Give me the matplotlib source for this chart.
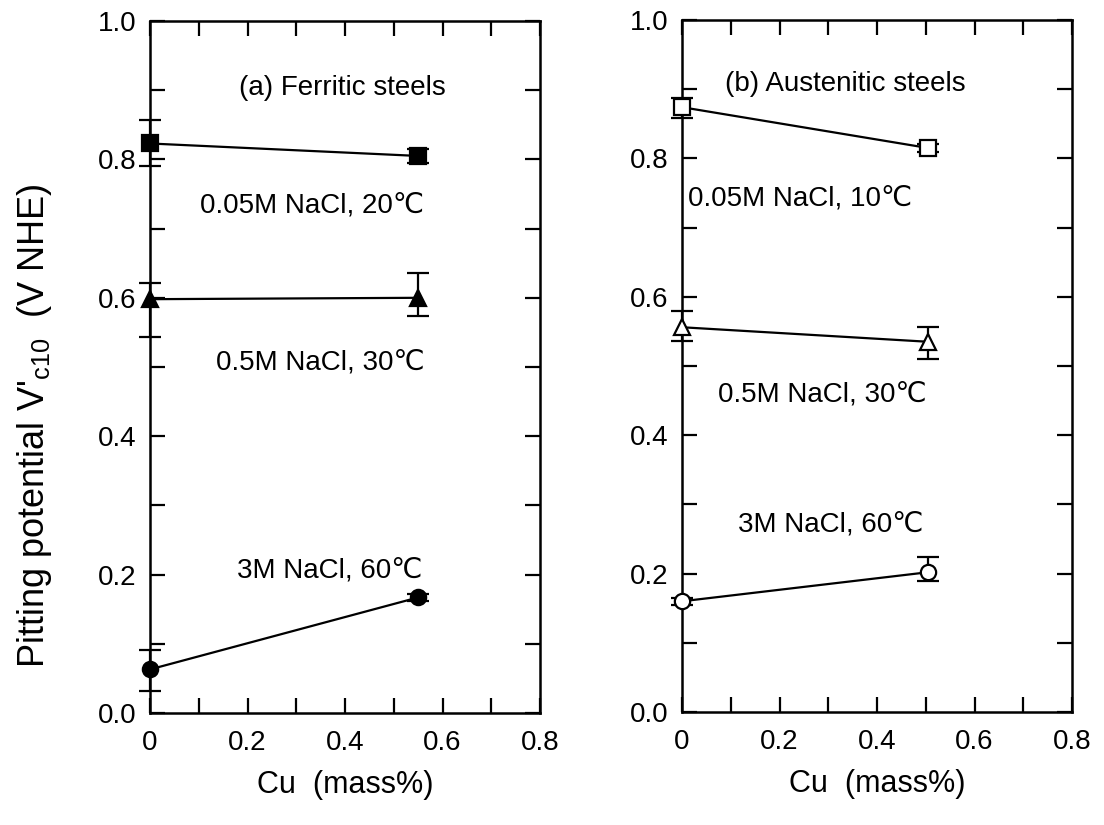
import matplotlib
matplotlib.use("Agg")
import matplotlib.pyplot as plt
from matplotlib.ticker import MultipleLocator, FuncFormatter

plt.rcParams['font.family'] = ['Liberation Sans', 'DejaVu Sans']

# Cu content (mass%)
cu_a = [0.0, 0.55]
cu_b = [0.0, 0.505]

# (a) ferritic steels
fe_005 = [0.823, 0.805]
fe_005_lo = [0.033, 0.01]
fe_005_hi = [0.034, 0.01]
fe_05 = [0.598, 0.600]
fe_05_lo = [0.055, 0.026]
fe_05_hi = [0.024, 0.036]
fe_3 = [0.063, 0.167]
fe_3_lo = [0.031, 0.005]
fe_3_hi = [0.028, 0.005]

# (b) austenitic steels
au_005 = [0.874, 0.815]
au_005_lo = [0.015, 0.006]
au_005_hi = [0.013, 0.006]
au_05 = [0.556, 0.535]
au_05_lo = [0.02, 0.025]
au_05_hi = [0.024, 0.022]
au_3 = [0.16, 0.202]
au_3_lo = [0.005, 0.012]
au_3_hi = [0.005, 0.022]

DEG = "\u2103"

fig = plt.figure(figsize=(11.04, 8.25), dpi=100)
ax1 = fig.add_axes([150/1104, 112/825, 390/1104, 692/825])
ax2 = fig.add_axes([682/1104, 113/825, 390/1104, 692/825])


def series(ax, x, y, lo, hi, marker, filled, ms):
    ax.errorbar(x, y, yerr=[lo, hi], color='black', lw=1.6, marker=marker,
                ms=ms, mfc='black' if filled else 'white', mec='black', mew=1.6,
                capsize=8, capthick=1.6, elinewidth=1.6, clip_on=False, zorder=3)


def style(ax):
    ax.set_xlim(0, 0.8)
    ax.set_ylim(0, 1.0)
    ax.xaxis.set_major_locator(MultipleLocator(0.2))
    ax.xaxis.set_minor_locator(MultipleLocator(0.1))
    ax.yaxis.set_major_locator(MultipleLocator(0.2))
    ax.yaxis.set_minor_locator(MultipleLocator(0.1))
    ax.xaxis.set_major_formatter(FuncFormatter(lambda v, p: "0" if abs(v) < 1e-9 else "%.1f" % v))
    ax.yaxis.set_major_formatter(FuncFormatter(lambda v, p: "%.1f" % v))
    ax.tick_params(which='both', direction='in', top=True, right=True,
                   length=11, width=1.6, labelsize=20)
    ax.tick_params(axis='x', pad=12)
    ax.tick_params(axis='y', pad=10)
    for s in ax.spines.values():
        s.set_linewidth(1.8)
    ax.set_xlabel("Cu  (mass%)", fontsize=22, labelpad=10)


series(ax1, cu_a, fe_005, fe_005_lo, fe_005_hi, 's', True, 12)
series(ax1, cu_a, fe_05, fe_05_lo, fe_05_hi, '^', True, 12)
series(ax1, cu_a, fe_3, fe_3_lo, fe_3_hi, 'o', True, 11)
style(ax1)
ax1.set_ylabel("Pitting potential V'$_{\\mathregular{c10}}$  (V NHE)", fontsize=26)
ax1.yaxis.set_label_coords(-0.245, 0.415)
ax1.text(0.395, 0.903, "(a) Ferritic steels", fontsize=20, ha='center', va='center')
ax1.text(0.332, 0.734, "0.05M NaCl, 20" + DEG, fontsize=20, ha='center', va='center')
ax1.text(0.349, 0.507, "0.5M NaCl, 30" + DEG, fontsize=20, ha='center', va='center')
ax1.text(0.369, 0.206, "3M NaCl, 60" + DEG, fontsize=20, ha='center', va='center')

series(ax2, cu_b, au_005, au_005_lo, au_005_hi, 's', False, 12)
series(ax2, cu_b, au_05, au_05_lo, au_05_hi, '^', False, 12)
series(ax2, cu_b, au_3, au_3_lo, au_3_hi, 'o', False, 11)
style(ax2)
ax2.text(0.334, 0.908, "(b) Austenitic steels", fontsize=20, ha='center', va='center')
ax2.text(0.242, 0.742, "0.05M NaCl, 10" + DEG, fontsize=20, ha='center', va='center')
ax2.text(0.287, 0.459, "0.5M NaCl, 30" + DEG, fontsize=20, ha='center', va='center')
ax2.text(0.304, 0.271, "3M NaCl, 60" + DEG, fontsize=20, ha='center', va='center')

fig.savefig("out.png", dpi=100)
